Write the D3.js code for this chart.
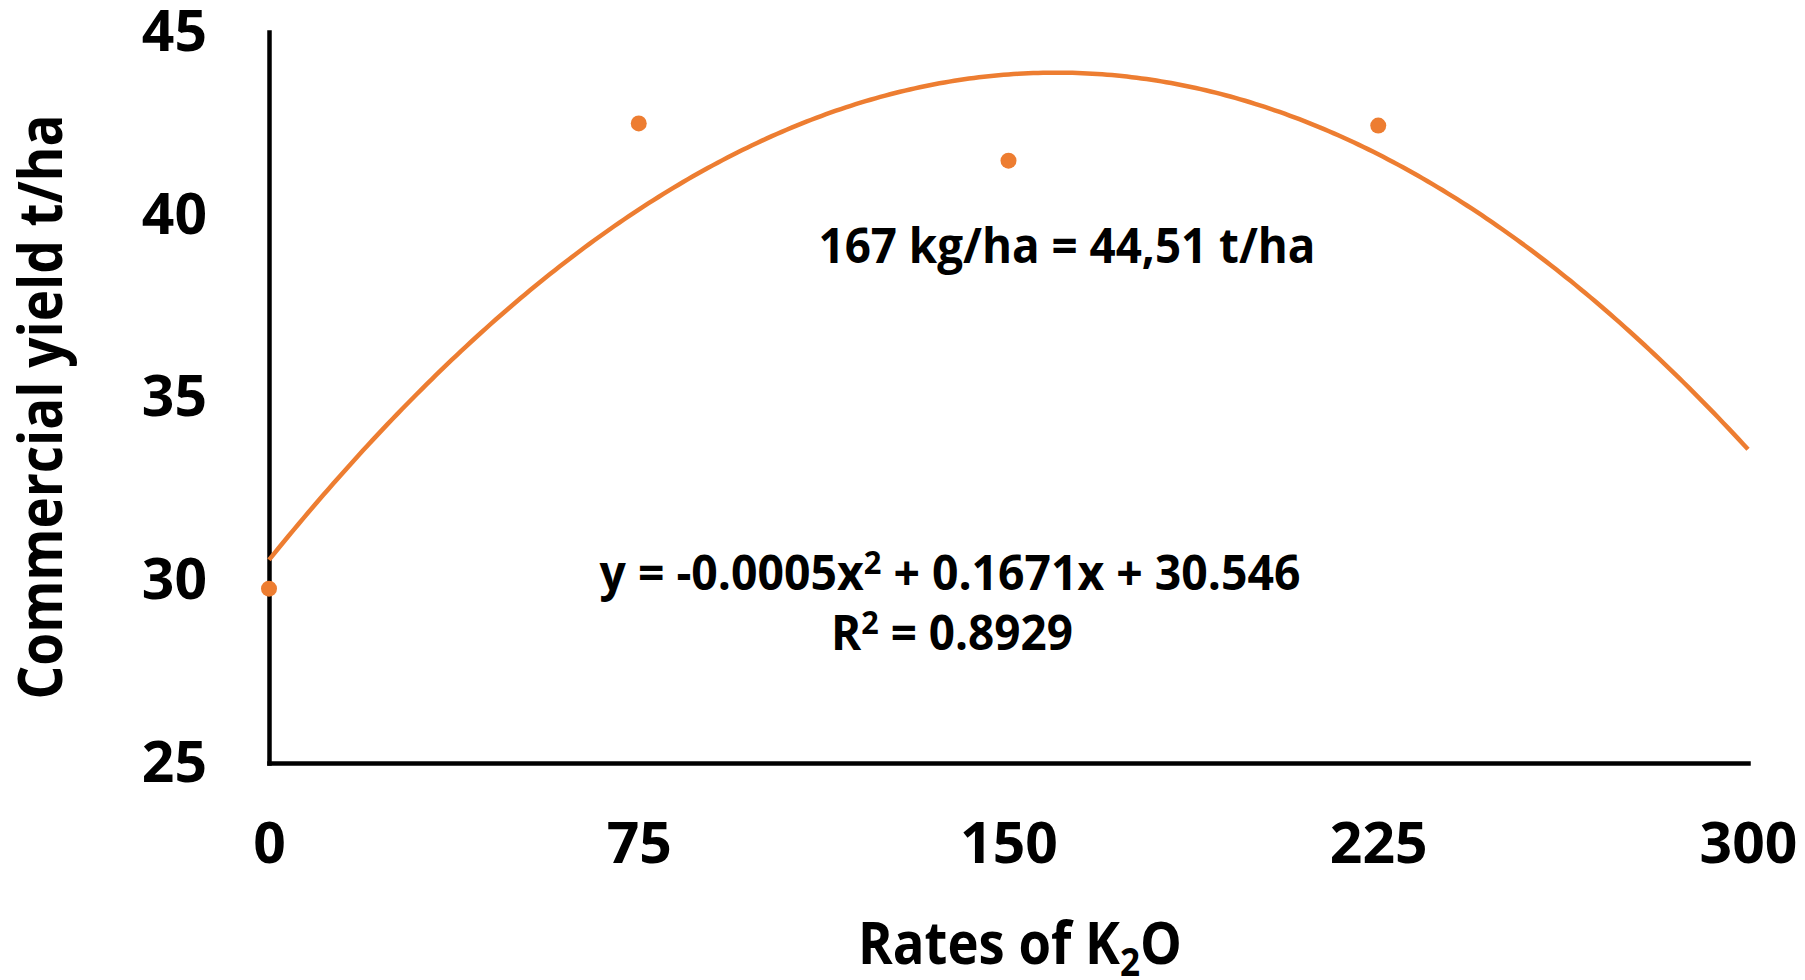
<!DOCTYPE html>
<html>
<head>
<meta charset="utf-8">
<script src="https://cdn.jsdelivr.net/npm/d3@7"></script>
<style>
  html, body { margin: 0; padding: 0; background: #fff; }
  svg { display: block; }
  text { font-family: "Open Sans", "Noto Sans", sans-serif; font-weight: 700; fill: #000; }
</style>
</head>
<body>
<svg id="chart" width="1805" height="980"></svg>
<script>
// ---- data ----
const rates = [0, 75, 150, 225];                 // kg/ha K2O
const yieldValues = [29.77, 42.50, 41.48, 42.44]; // t/ha
const xTicks = [0, 75, 150, 225, 300];
const yTicks = [25, 30, 35, 40, 45];
const xDomain = [0, 300];
const yDomain = [25, 45];
const xTitleParts = ["Rates of K", "2", "O"];
const yTitle = "Commercial yield t/ha";
const optimumLabel = "167 kg/ha = 44,51 t/ha";
const equationParts = ["y = -0.0005x", "2", " + 0.1671x + 30.546"];
const r2Parts = ["R", "2", " = 0.8929"];

const orange = "#ED7D31";

const svg = d3.select("#chart");
const x = d3.scaleLinear().domain(xDomain).range([269, 1748]);
const y = d3.scaleLinear().domain(yDomain).range([763, 32]);

// ---- quadratic least-squares trendline (as the spreadsheet does) ----
function quadFit(xs, ys) {
  const n = xs.length;
  let s = [0,0,0,0,0], t = [0,0,0];
  for (let i = 0; i < n; i++) {
    const xi = xs[i], yi = ys[i];
    for (let k = 0; k < 5; k++) s[k] += Math.pow(xi, k);
    for (let k = 0; k < 3; k++) t[k] += Math.pow(xi, k) * yi;
  }
  const M = [[s[0], s[1], s[2], t[0]], [s[1], s[2], s[3], t[1]], [s[2], s[3], s[4], t[2]]];
  for (let c = 0; c < 3; c++) {
    let p = c;
    for (let r = c + 1; r < 3; r++) if (Math.abs(M[r][c]) > Math.abs(M[p][c])) p = r;
    [M[c], M[p]] = [M[p], M[c]];
    for (let r = 0; r < 3; r++) {
      if (r === c) continue;
      const f = M[r][c] / M[c][c];
      for (let k = c; k < 4; k++) M[r][k] -= f * M[c][k];
    }
  }
  return [M[0][3] / M[0][0], M[1][3] / M[1][1], M[2][3] / M[2][2]]; // c0, c1, c2
}
const coef = quadFit(rates, yieldValues);
const trend = d3.range(0, 300.5, 1).map(v => [v, coef[0] + coef[1] * v + coef[2] * v * v]);

// ---- axes ----
const yAxis = d3.axisLeft(y).tickValues(yTicks).tickSize(0).tickSizeOuter(0).tickPadding(62);
const xAxis = d3.axisBottom(x).tickValues(xTicks).tickSize(0).tickSizeOuter(0).tickPadding(60);

const gy = svg.append("g").attr("transform", `translate(${x(0)},0)`).call(yAxis);
const gx = svg.append("g").attr("transform", `translate(0,${y(25)})`).call(xAxis);
[gx, gy].forEach(g => {
  g.select(".domain").attr("stroke", "#000").attr("stroke-width", 4.5).attr("stroke-linecap", "square");
  g.selectAll("text").attr("font-family", null).attr("font-size", 57).style("font-weight", 700);
});

// ---- trendline ----
svg.append("path")
  .datum(trend)
  .attr("fill", "none")
  .attr("stroke", orange)
  .attr("stroke-width", 4.5)
  .attr("d", d3.line().x(d => x(d[0])).y(d => y(d[1])));

// ---- points ----
svg.append("g").selectAll("circle")
  .data(rates.map((r, i) => [r, yieldValues[i]]))
  .join("circle")
  .attr("cx", d => x(d[0]))
  .attr("cy", d => y(d[1]))
  .attr("r", 8)
  .attr("fill", orange);

// text with a small raised/lowered middle part, horizontally condensed to the target width
function partText(cx, by, parts, size, subSize, shift, targetW) {
  const g = svg.append("g").attr("transform", `translate(${cx},${by})`);
  const t = g.append("text").attr("x", 0).attr("y", 0).attr("text-anchor", "middle").attr("font-size", size);
  t.append("tspan").text(parts[0]);
  t.append("tspan").attr("font-size", subSize).attr("dy", shift).text(parts[1]);
  t.append("tspan").attr("dy", -shift).text(parts[2]);
  const w = t.node().getComputedTextLength();
  const k = Math.min(1, targetW / w);
  t.attr("transform", `scale(${k},1)`);
  return g;
}

// ---- axis titles ----
partText(1020, 964, xTitleParts, 60, 40, 12, 324);

svg.append("text")
  .attr("transform", "translate(62,407) rotate(-90)")
  .attr("text-anchor", "middle")
  .attr("font-size", 60)
  .attr("textLength", 585)
  .attr("lengthAdjust", "spacingAndGlyphs")
  .text(yTitle);

// ---- annotations ----
svg.append("text")
  .attr("x", 1067).attr("y", 263)
  .attr("text-anchor", "middle")
  .attr("font-size", 48)
  .attr("textLength", 497)
  .attr("lengthAdjust", "spacingAndGlyphs")
  .text(optimumLabel);

partText(950, 590, equationParts, 48, 32, -16, 701);
partText(952, 650, r2Parts, 48, 32, -16, 242);
</script>
</body>
</html>
